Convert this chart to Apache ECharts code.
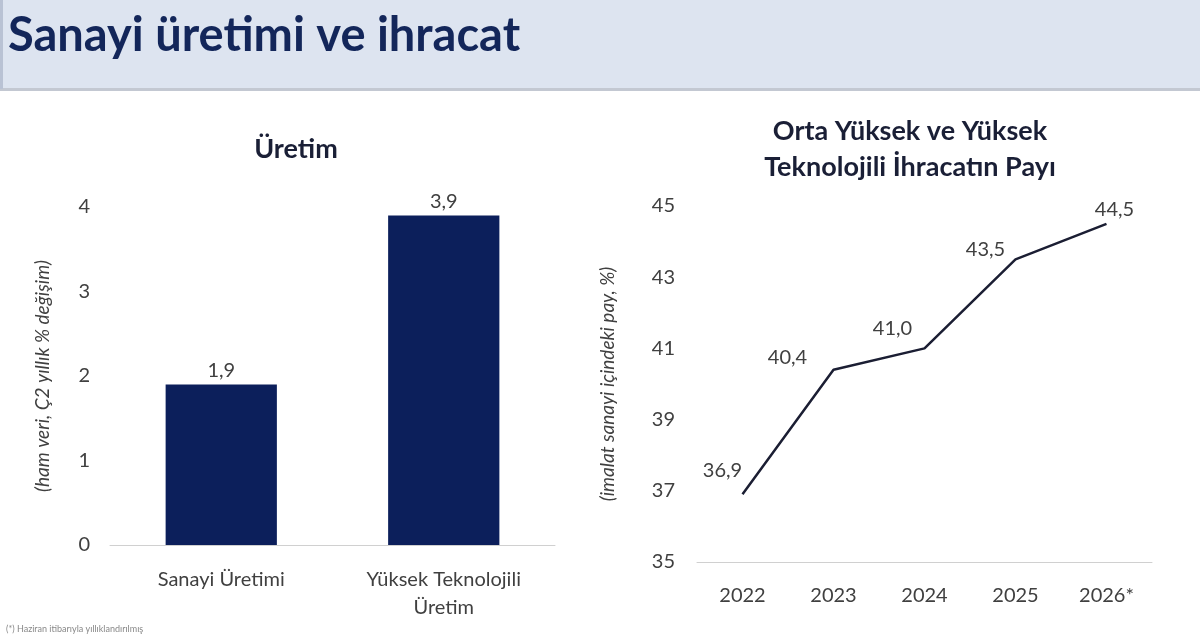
<!DOCTYPE html>
<html>
<head>
<meta charset="utf-8">
<title>Sanayi üretimi ve ihracat</title>
<script src="https://cdn.jsdelivr.net/npm/echarts@6/dist/echarts.min.js"></script>
<style>
  html, body { margin: 0; padding: 0; background: #fff; }
  #main { width: 1200px; height: 640px; }
</style>
</head>
<body>
<div id="main"></div>
<script>
// veriler
var barCategories = ['Sanayi Üretimi', 'Yüksek Teknolojili\nÜretim'];
var barValues = [1.9, 3.9];

var years = ['2022', '2023', '2024', '2025', '2026*'];
var shareValues = [36.9, 40.4, 41.0, 43.5, 44.5];

var FONT = 'Lato, "Open Sans", sans-serif';
var NAVY = '#0c1f5b';
var TEXT = '#404040';

function fmt(v) {
  return v.toFixed(1).replace('.', ',');
}

// etiket kaydırmaları (sola-yukarı)
var lineLabelOffsets = [[-20, -2], [-46, 10], [-32, 2], [-30, 12], [8, 8]];

var myChart = echarts.init(document.getElementById('main'));
var option;

option = {
  backgroundColor: '#fff',
  textStyle: { fontFamily: FONT },
  graphic: [
    {
      type: 'rect',
      shape: { x: 0, y: 0, width: 1200, height: 89 },
      style: { fill: '#dde4f0' },
      z: -10
    },
    {
      type: 'rect',
      shape: { x: 0, y: 88, width: 1200, height: 3 },
      style: { fill: '#c3c8d2' },
      z: -10
    },
    {
      type: 'rect',
      shape: { x: 0, y: 0, width: 3, height: 89 },
      style: { fill: '#b9c2d4' },
      z: -9
    },
    {
      type: 'text',
      left: 8,
      top: 12,
      style: {
        text: 'Sanayi üretimi ve ihracat',
        fill: '#13265a',
        font: 'bold 47px ' + FONT
      }
    },
    {
      type: 'text',
      left: 6,
      top: 625,
      style: {
        text: '(*) Haziran itibarıyla yıllıklandırılmış',
        fill: '#888',
        font: '9px ' + FONT
      }
    }
  ],
  title: [
    {
      text: 'Üretim',
      left: 291,
      top: 131,
      textAlign: 'center',
      textStyle: { fontFamily: FONT, fontSize: 27, fontWeight: 'bold', color: '#1a1f36' }
    },
    {
      text: 'Orta Yüksek ve Yüksek\nTeknolojili İhracatın Payı',
      left: 905,
      top: 108,
      textAlign: 'center',
      textStyle: { fontFamily: FONT, fontSize: 27, fontWeight: 'bold', color: '#1a1f36', lineHeight: 36 }
    }
  ],
  grid: [
    { left: 110, right: 645, top: 207, bottom: 95 },
    { left: 697, right: 48, top: 206, bottom: 78 }
  ],
  xAxis: [
    {
      type: 'category',
      gridIndex: 0,
      data: barCategories,
      axisLine: { lineStyle: { color: '#d0d0d0', width: 1 } },
      axisTick: { show: false },
      axisLabel: { color: TEXT, fontSize: 20, margin: 21, lineHeight: 28, fontFamily: FONT }
    },
    {
      type: 'category',
      gridIndex: 1,
      data: years,
      axisLine: { lineStyle: { color: '#d0d0d0', width: 1 } },
      axisTick: { show: false },
      axisLabel: { color: TEXT, fontSize: 20, margin: 24, fontFamily: FONT }
    }
  ],
  yAxis: [
    {
      type: 'value',
      gridIndex: 0,
      min: 0,
      max: 4,
      interval: 1,
      splitLine: { show: false },
      axisLine: { show: false },
      axisTick: { show: false },
      axisLabel: { color: TEXT, fontSize: 20, margin: 20, fontFamily: FONT },
      name: '(ham veri, Ç2 yıllık % değişim)',
      nameLocation: 'middle',
      nameGap: 58,
      nameRotate: 90,
      nameTextStyle: { color: TEXT, fontSize: 19, fontStyle: 'italic', fontFamily: FONT }
    },
    {
      type: 'value',
      gridIndex: 1,
      min: 35,
      max: 45,
      interval: 2,
      splitLine: { show: false },
      axisLine: { show: false },
      axisTick: { show: false },
      axisLabel: { color: TEXT, fontSize: 20, margin: 22, fontFamily: FONT },
      name: '(imalat sanayi içindeki pay, %)',
      nameLocation: 'middle',
      nameGap: 80,
      nameRotate: 90,
      nameTextStyle: { color: TEXT, fontSize: 19, fontStyle: 'italic', fontFamily: FONT }
    }
  ],
  series: [
    {
      type: 'bar',
      xAxisIndex: 0,
      yAxisIndex: 0,
      data: barValues,
      barWidth: '50%',
      itemStyle: { color: NAVY },
      label: {
        show: true,
        position: 'top',
        distance: 4,
        color: TEXT,
        fontSize: 20,
        fontFamily: FONT,
        formatter: function (p) { return fmt(p.value); }
      }
    },
    {
      type: 'line',
      xAxisIndex: 1,
      yAxisIndex: 1,
      data: shareValues.map(function (v, i) {
        return { value: v, label: { offset: lineLabelOffsets[i] } };
      }),
      symbol: 'circle',
      symbolSize: 0,
      showSymbol: true,
      lineStyle: { color: '#1b1e33', width: 2.5 },
      label: {
        show: true,
        position: 'top',
        distance: 12,
        color: TEXT,
        fontSize: 20,
        fontFamily: FONT,
        formatter: function (p) { return fmt(p.value); }
      }
    }
  ]
};

option && myChart.setOption(option);
window.onresize = myChart.resize;
</script>
</body>
</html>
